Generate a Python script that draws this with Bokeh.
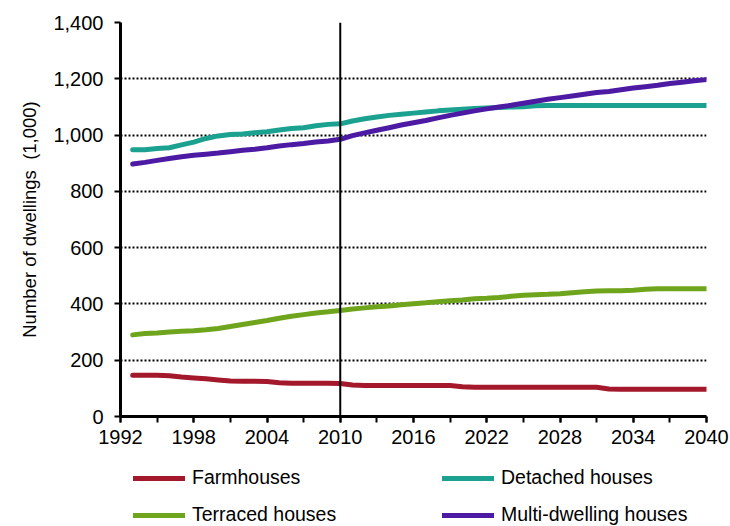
from bokeh.plotting import figure
from bokeh.models import FixedTicker, Legend, LegendItem, Span, Range1d, NumeralTickFormatter
from bokeh.layouts import column
from bokeh.embed import file_html
from bokeh.resources import INLINE

years = list(range(1993, 2041))

farmhouses = [147, 147, 147, 145, 140, 137, 134, 130, 126, 125, 125, 124, 120, 118, 118, 118, 118, 117,
              112, 110, 110, 110, 110, 110, 110, 110, 110, 106, 104, 104, 104, 104, 104, 104, 104, 104,
              104, 104, 104, 98, 97, 97, 97, 97, 97, 97, 97, 97]

detached = [948, 948, 952, 955, 965, 975, 988, 997, 1002, 1004, 1008, 1012, 1018, 1023, 1026, 1033, 1038, 1040,
            1050, 1058, 1064, 1070, 1074, 1078, 1082, 1086, 1089, 1092, 1094, 1096, 1098, 1100, 1101, 1104,
            1105, 1105, 1105, 1105, 1105, 1105, 1105, 1105, 1105, 1105, 1105, 1105, 1105, 1105]

terraced = [290, 295, 297, 300, 303, 305, 308, 313, 320, 327, 334, 341, 349, 356, 362, 368, 372, 377,
            382, 386, 390, 393, 397, 401, 404, 408, 411, 414, 418, 420, 423, 427, 431, 433, 434, 436,
            440, 443, 446, 447, 447, 449, 452, 454, 454, 454, 454, 454]

multi = [897, 903, 910, 917, 923, 928, 932, 936, 941, 946, 950, 955, 961, 966, 970, 975, 979, 985,
         998, 1008, 1017, 1026, 1036, 1044, 1052, 1061, 1070, 1078, 1086, 1093, 1100, 1106, 1113, 1120,
         1127, 1133, 1139, 1145, 1151, 1155, 1161, 1167, 1172, 1177, 1183, 1188, 1193, 1197]

series_names = ["Farmhouses", "Detached houses", "Terraced houses", "Multi-dwelling houses"]
series_colors = ["#A3192B", "#1BA190", "#6FA51C", "#4C1AA3"]
series_values = [farmhouses, detached, terraced, multi]

x_labels = list(range(1992, 2041, 6))
x_minor = list(range(1992, 2041, 3))
y_ticks = list(range(0, 1401, 200))
forecast_start = 2010

FONT = "Liberation Sans"

p = figure(width=730, height=456, output_backend="svg", toolbar_location=None,
           x_range=Range1d(1992, 2040), y_range=Range1d(0, 1400),
           min_border_left=120, min_border_right=24, min_border_top=22, min_border_bottom=40)
p.outline_line_color = None
p.background_fill_color = "white"
p.border_fill_color = "white"

p.xgrid.grid_line_color = None
p.ygrid.grid_line_color = "black"
p.ygrid.grid_line_dash = "2 2"
p.ygrid.grid_line_width = 2
p.ygrid.ticker = FixedTicker(ticks=y_ticks[1:])

p.xaxis.ticker = FixedTicker(ticks=x_labels, minor_ticks=x_minor)
p.yaxis.ticker = FixedTicker(ticks=y_ticks)
p.yaxis.formatter = NumeralTickFormatter(format="0,0")

for ax in (p.xaxis[0], p.yaxis[0]):
    ax.axis_line_color = "black"
    ax.axis_line_width = 3
    ax.major_tick_line_color = "black"
    ax.major_tick_line_width = 2
    ax.major_tick_out = 6
    ax.major_tick_in = 0
    ax.minor_tick_line_color = "black"
    ax.minor_tick_line_width = 2
    ax.minor_tick_out = 6
    ax.minor_tick_in = 0
    ax.major_label_text_font = FONT
    ax.major_label_text_font_size = "20px"
    ax.major_label_text_color = "black"

p.yaxis.minor_tick_line_color = None
p.xaxis.major_label_standoff = 7
p.yaxis.major_label_standoff = 11
p.yaxis.axis_label = "Number of dwellings \u00a0(1,000)"
p.yaxis.axis_label_text_font = FONT
p.yaxis.axis_label_text_font_size = "18.5px"
p.yaxis.axis_label_text_font_style = "normal"
p.yaxis.axis_label_text_color = "black"
p.yaxis.axis_label_standoff = 10

p.add_layout(Span(location=forecast_start, dimension="height", line_color="black", line_width=2))

for vals, col in zip(series_values, series_colors):
    p.line(years, vals, line_color=col, line_width=5, line_cap="round", line_join="round")

# Legend panel below the chart (its frame lines up with the chart frame)
lg = figure(width=730, height=70, output_backend="svg", toolbar_location=None,
            x_axis_type=None, y_axis_type=None, x_range=Range1d(0, 1), y_range=Range1d(0, 1),
            min_border_left=120, min_border_right=24, min_border_top=0, min_border_bottom=0)
lg.outline_line_color = None
lg.xgrid.grid_line_color = None
lg.ygrid.grid_line_color = None
lg.background_fill_color = "white"
lg.border_fill_color = "white"

# same series, out of this panel's visible range; used only for legend swatches
proxies = [lg.line(years, vals, line_color=c, line_width=5, line_cap="round")
           for vals, c in zip(series_values, series_colors)]

row_bottoms = [37, 0]
for row in range(2):
    items = [LegendItem(label=series_names[2 * row + k], renderers=[proxies[2 * row + k]]) for k in range(2)]
    legend = Legend(items=items, orientation="horizontal")
    legend.label_text_font = FONT
    legend.label_text_font_size = "19.5px"
    legend.label_text_color = "black"
    legend.label_standoff = 7
    legend.glyph_width = 52
    legend.glyph_height = 20
    legend.label_width = 244
    legend.label_height = 20
    legend.spacing = 6
    legend.padding = 2
    legend.margin = 0
    legend.border_line_color = None
    legend.background_fill_alpha = 0
    legend.location = (13, row_bottoms[row])
    lg.add_layout(legend, "center")

layout = column(p, lg, spacing=0)
open("out.html", "w").write(file_html(layout, INLINE))
